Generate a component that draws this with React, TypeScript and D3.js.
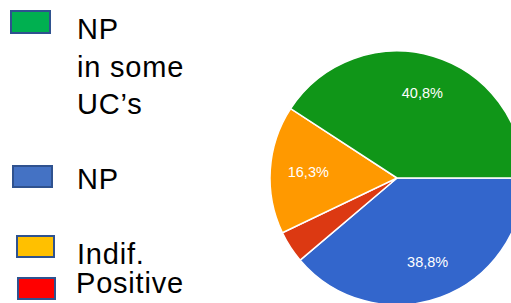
import { useRef, useEffect } from 'react';
import * as d3 from 'd3';

const W = 511;
const H = 303;

// slice order, clockwise from 3 o'clock
const categories = ['NP', 'Positive', 'Indif.', 'NP in some UC\u2019s'];
const values = [38.8, 4.1, 16.3, 40.8];
const sliceLabels = ['38,8%', '', '16,3%', '40,8%'];
const sliceColors = ['#3366cc', '#dc3912', '#ff9900', '#109618'];

// legend as it appears top to bottom
const legendLines = [['NP', 'in some', 'UC\u2019s'], ['NP'], ['Indif.'], ['Positive']];
const legendColors = ['#00b050', '#4472c4', '#ffc000', '#ff0000'];

// hand-placed legend boxes (the source legend is not on a regular grid)
const LEGEND_LAYOUT = [
  { box: [11, 11, 39, 22], text: [77, 39] },
  { box: [13, 166, 39, 21], text: [77, 189] },
  { box: [17, 236, 37, 21], text: [77, 264] },
  { box: [18, 278, 37, 21], text: [76, 293] },
];
const LINE_H = 37.5;

const CX = 397;
const CY = 178;
const R = 127;

export default function App() {
  const svgRef = useRef<SVGSVGElement | null>(null);

  useEffect(() => {
    if (!svgRef.current) return;
    const svg = d3.select(svgRef.current);
    svg.selectAll('*').remove();

    // --- Pie ---
    const pie = d3
      .pie<number>()
      .sort(null)
      .startAngle(Math.PI / 2)
      .endAngle(Math.PI / 2 + 2 * Math.PI);
    const arcs = pie(values);
    const arc = d3.arc<d3.PieArcDatum<number>>().innerRadius(0).outerRadius(R);
    const labelArc = d3
      .arc<d3.PieArcDatum<number>>()
      .innerRadius(R * 0.7)
      .outerRadius(R * 0.7);

    const g = svg.append('g').attr('transform', `translate(${CX},${CY})`);

    g.selectAll('path')
      .data(arcs)
      .join('path')
      .attr('d', arc)
      .attr('fill', (_, i) => sliceColors[i])
      .attr('stroke', '#fff')
      .attr('stroke-width', 1.5)
      .append('title')
      .text((_, i) => categories[i]);

    g.selectAll('text.lbl')
      .data(arcs)
      .join('text')
      .attr('class', 'lbl')
      .attr('transform', (d) => `translate(${labelArc.centroid(d)})`)
      .attr('text-anchor', 'middle')
      .attr('dy', '0.36em')
      .attr('fill', '#fff')
      .attr('font-family', 'Arial, "Liberation Sans", sans-serif')
      .attr('font-size', 14.5)
      .text((_, i) => sliceLabels[i]);

    // --- Legend ---
    const lg = svg.append('g');
    LEGEND_LAYOUT.forEach((l, i) => {
      const [bx, by, bw, bh] = l.box;
      lg.append('rect')
        .attr('x', bx)
        .attr('y', by)
        .attr('width', bw)
        .attr('height', bh)
        .attr('fill', legendColors[i])
        .attr('stroke', '#2f528f')
        .attr('stroke-width', 2);

      const t = lg
        .append('text')
        .attr('x', l.text[0])
        .attr('y', l.text[1])
        .attr('fill', '#000')
        .attr('font-family', 'Arial, "Liberation Sans", sans-serif')
        .attr('font-size', 29)
        .attr('letter-spacing', 0.8);
      legendLines[i].forEach((line, k) => {
        t.append('tspan')
          .attr('x', l.text[0])
          .attr('dy', k === 0 ? 0 : LINE_H)
          .text(line);
      });
    });
  }, []);

  return (
    <div style={{ position: 'absolute', left: 0, top: 0, width: W, height: H, background: '#fff' }}>
      <svg ref={svgRef} width={W} height={H} style={{ display: 'block' }} />
    </div>
  );
}
